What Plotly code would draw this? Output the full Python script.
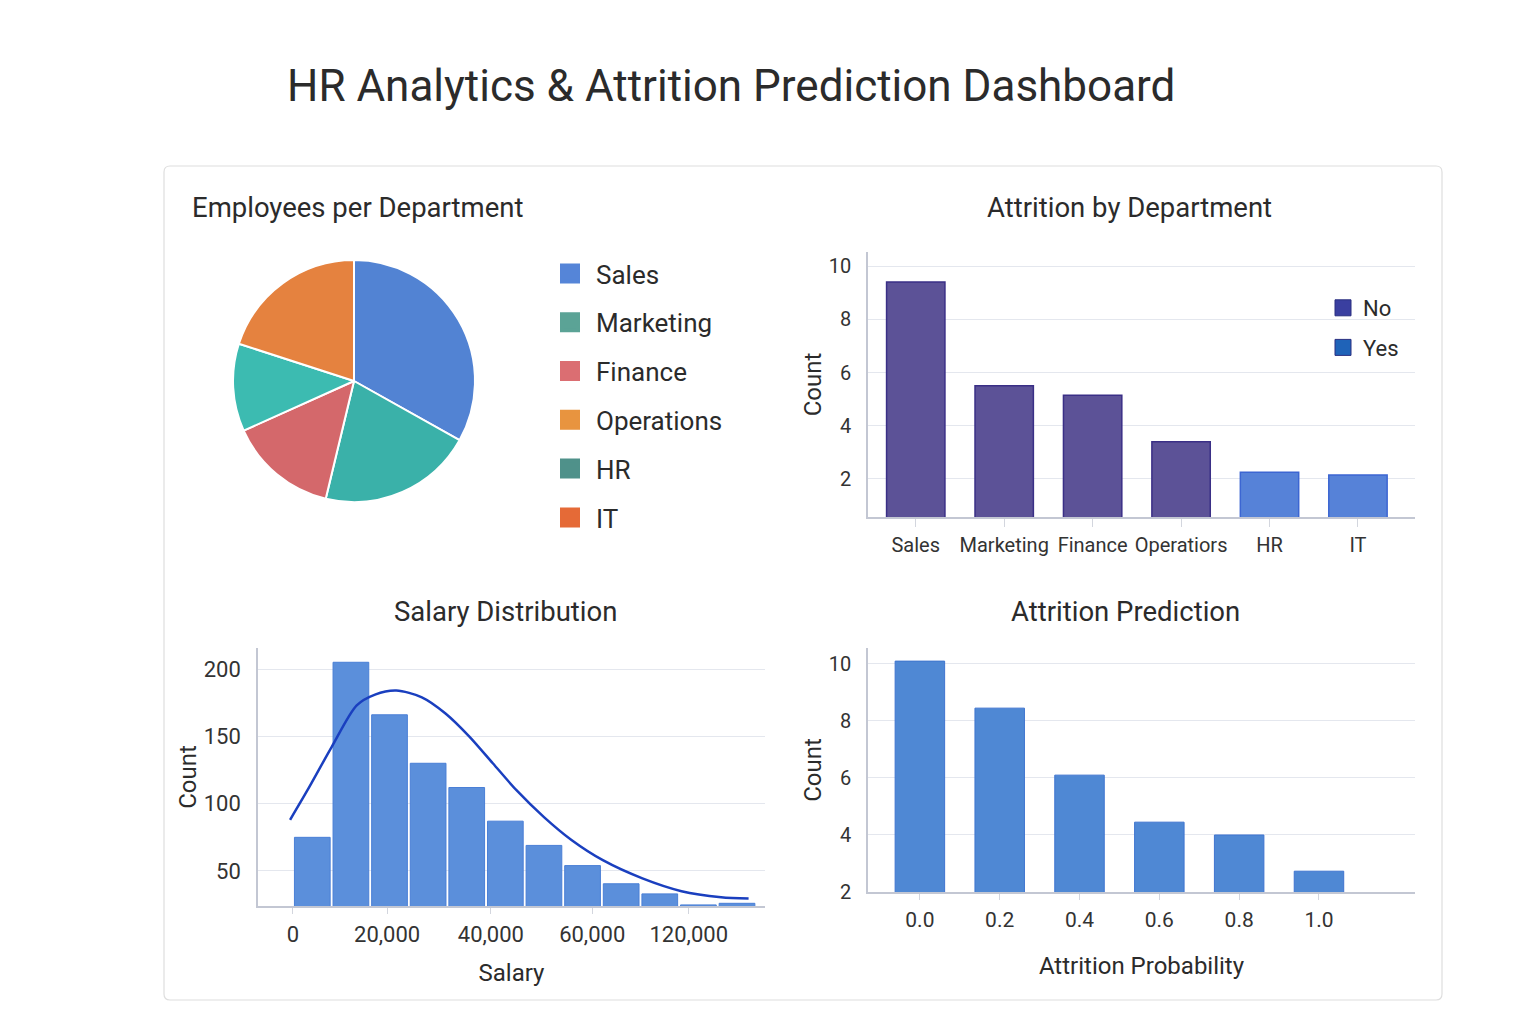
import plotly.graph_objects as go

W, H = 1536, 1024
H_MAP = 1012  # empirical vertical mapping of the rendered page

# ---------------- data ----------------
dashboard_title = "HR Analytics & Attrition Prediction Dashboard"
panel_titles = ["Employees per Department", "Attrition by Department",
                "Salary Distribution", "Attrition Prediction"]

departments = ["Sales", "Marketing", "Finance", "Operations", "HR", "IT"]
dept_legend_colors = ["#5585D8", "#5BA396", "#DB6E72", "#E8943F", "#4F918A", "#E56A37"]

pie_labels = ["Sales", "Marketing", "Finance", "HR", "IT"]
pie_values = [331, 206, 145, 117, 200]
pie_colors = ["#5283D3", "#3AB1A9", "#D4686B", "#3CBBB1", "#E5823F"]

attr_categories = ["Sales", "Marketing", "Finance", "Operatiors", "HR", "IT"]
attr_counts = [9.4, 5.5, 5.15, 3.4, 2.25, 2.15]
attr_status = ["No", "No", "No", "No", "Yes", "Yes"]
attr_legend = ["No", "Yes"]
attr_legend_colors = ["#3A3FA0", "#1F63B8"]

salary_bin_centers = [4000, 12000, 20000, 28000, 36000, 44000,
                      52000, 60000, 68000, 76000, 84000, 92000]
salary_counts = [75, 205, 166, 130, 112, 87, 69, 54, 40.5, 33, 24.8, 26]
salary_tick_pos = [0, 19500, 41000, 62000, 82000]
salary_tick_labels = ["0", "20,000", "40,000", "60,000", "120,000"]
kde_x = [-600, 3000, 8000, 13200, 17000, 21400, 26700, 31600, 36500, 41400,
         46300, 52000, 57700, 64200, 72400, 80500, 88700, 94400]
kde_y = [88, 110, 142, 173, 181, 184, 179, 167, 150, 130,
         110, 90, 73, 58, 44.5, 35, 30.5, 29.5]

pred_prob = [0.0, 0.2, 0.4, 0.6, 0.8, 1.0]
pred_counts = [10.1, 8.45, 6.1, 4.45, 4.0, 2.73]

# ---------------- helpers ----------------
FONT = "Roboto"
TXT = "#2b2b2b"
AXLINE = "#c3c7d3"
GRID = "#e4e7ee"


def px_x(p):
    return p / W


def px_y(p):
    return 1 - p / H_MAP


fig = go.Figure()

# Pie
fig.add_trace(go.Pie(
    labels=pie_labels, values=pie_values, sort=False, direction="clockwise",
    rotation=0, textinfo="none", showlegend=False,
    marker=dict(colors=pie_colors, line=dict(color="white", width=2)),
    domain=dict(x=[px_x(233), px_x(475)], y=[px_y(502), px_y(260)]),
))

# Pie legend (dummy traces)
for d, c in zip(departments, dept_legend_colors):
    fig.add_trace(go.Scatter(
        x=[None], y=[None], mode="markers", name=d, legend="legend",
        legendgroup=d, xaxis="x", yaxis="y",
        marker=dict(symbol="square", size=18, color=c,
                    line=dict(color=c, width=4)),
    ))

# Attrition by department
for status, fill, edge in [("No", "#5C5297", "#3A2F86"), ("Yes", "#5682D8", "#3C66D2")]:
    xs = [c for c, s in zip(attr_categories, attr_status) if s == status]
    ys = [v for v, s in zip(attr_counts, attr_status) if s == status]
    fig.add_trace(go.Bar(
        x=xs, y=ys, name=status, showlegend=False, width=0.66,
        marker=dict(color=fill, line=dict(color=edge, width=1.5)),
        xaxis="x", yaxis="y",
    ))
for n, c in zip(attr_legend, attr_legend_colors):
    fig.add_trace(go.Scatter(
        x=[None], y=[None], mode="markers", name=n, legend="legend2",
        legendgroup="a" + n, xaxis="x", yaxis="y",
        marker=dict(symbol="square", size=16, color=c,
                    line=dict(color="#2a2f80", width=1)),
    ))

# Salary histogram
fig.add_trace(go.Bar(
    x=salary_bin_centers, y=salary_counts, width=7400, showlegend=False,
    marker=dict(color="#5B8FDB", line=dict(color="#4A7FD6", width=1)),
    xaxis="x2", yaxis="y2",
))
fig.add_trace(go.Scatter(
    x=kde_x, y=kde_y, mode="lines", showlegend=False,
    line=dict(color="#1A3FBF", width=2.5, shape="spline", smoothing=0.8),
    xaxis="x2", yaxis="y2",
))

# Attrition prediction
fig.add_trace(go.Bar(
    x=pred_prob, y=pred_counts, width=0.124, showlegend=False,
    marker=dict(color="#4F88D4", line=dict(color="#3F74CF", width=1)),
    xaxis="x3", yaxis="y3",
))


def ax(size, **kw):
    d = dict(showline=True, linecolor=AXLINE, linewidth=1.5, zeroline=False,
             tickfont=dict(family=FONT, size=size, color="#333"), fixedrange=True)
    d.update(kw)
    return d


def ttl(text, standoff):
    return dict(text=text, font=dict(family=FONT, size=24, color=TXT), standoff=standoff)


def ann(text, x, y, size, anchor="center"):
    return dict(text=text, x=px_x(x), y=px_y(y), xref="paper", yref="paper",
                showarrow=False, xanchor=anchor, yanchor="middle",
                font=dict(family=FONT, size=size, color=TXT))


annotations = [
    ann(dashboard_title, 731, 86, 44),
    ann(panel_titles[0], 190, 207, 27.5, "left"),
    ann(panel_titles[1], 1129, 207, 27.5),
    ann(panel_titles[2], 505, 611, 27.5),
    ann(panel_titles[3], 1125, 611, 27.5),
]

r = 6
x0, x1, y0, y1 = 164, 1442, 166, 1000
ry = 6 * 1.0
card_path = (
    f"M {px_x(x0 + r)},{px_y(y0)} L {px_x(x1 - r)},{px_y(y0)} "
    f"Q {px_x(x1)},{px_y(y0)} {px_x(x1)},{px_y(y0 + ry)} "
    f"L {px_x(x1)},{px_y(y1 - ry)} Q {px_x(x1)},{px_y(y1)} {px_x(x1 - r)},{px_y(y1)} "
    f"L {px_x(x0 + r)},{px_y(y1)} Q {px_x(x0)},{px_y(y1)} {px_x(x0)},{px_y(y1 - ry)} "
    f"L {px_x(x0)},{px_y(y0 + ry)} Q {px_x(x0)},{px_y(y0)} {px_x(x0 + r)},{px_y(y0)} Z"
)

fig.update_layout(
    width=W, height=H, autosize=False,
    margin=dict(l=0, r=0, t=0, b=0),
    paper_bgcolor="white", plot_bgcolor="white",
    font=dict(family=FONT, color=TXT),
    barmode="overlay",
    annotations=annotations,
    shapes=[dict(type="path", path=card_path, xref="paper", yref="paper",
                 line=dict(color="#dedede", width=1.2), fillcolor="rgba(0,0,0,0)",
                 layer="below")],
    xaxis=ax(20, domain=[px_x(868), px_x(1415)], anchor="y", type="category",
             categoryorder="array", categoryarray=attr_categories,
             range=[-0.54, 5.645], ticks="outside", ticklen=8, tickcolor="#d3d6de",
             showgrid=False, ticklabelstandoff=1),
    yaxis=ax(20, domain=[px_y(517), px_y(252)], anchor="x", range=[0.57, 10.53],
             tickvals=[2, 4, 6, 8, 10], ticks="", gridcolor=GRID, gridwidth=1,
             ticklabelstandoff=11, title=ttl("Count", 0)),
    xaxis2=ax(22, domain=[px_x(258), px_x(765)], anchor="y2", range=[-7250, 97800],
              tickvals=salary_tick_pos, ticktext=salary_tick_labels,
              ticks="outside", ticklen=6, tickcolor="#d3d6de", showgrid=False,
              ticklabelstandoff=2, title=ttl("Salary", 18)),
    yaxis2=ax(22, domain=[px_y(906), px_y(648)], anchor="x2", range=[24, 215.6],
              tickvals=[50, 100, 150, 200], ticks="", gridcolor=GRID, gridwidth=1,
              ticklabelstandoff=11, title=ttl("Count", 0)),
    xaxis3=ax(21, domain=[px_x(868), px_x(1415)], anchor="y3", range=[-0.13, 1.2406],
              tickvals=pred_prob, tickformat=".1f",
              ticks="outside", ticklen=6, tickcolor="#d3d6de", showgrid=False,
              ticklabelstandoff=2, title=ttl("Attrition Probability", 26)),
    yaxis3=ax(20, domain=[px_y(892), px_y(648)], anchor="x3", range=[2, 10.56],
              tickvals=[2, 4, 6, 8, 10], ticks="", gridcolor=GRID, gridwidth=1,
              ticklabelstandoff=11, title=ttl("Count", 0)),
    legend=dict(x=px_x(544), y=px_y(250), xanchor="left", yanchor="top",
                font=dict(family=FONT, size=26, color=TXT), bgcolor="rgba(0,0,0,0)",
                tracegroupgap=12, itemwidth=42, itemclick=False, itemdoubleclick=False),
    legend2=dict(x=px_x(1323), y=px_y(287), xanchor="left", yanchor="top",
                 font=dict(family=FONT, size=22, color=TXT), bgcolor="rgba(0,0,0,0)",
                 tracegroupgap=8, itemwidth=30, itemclick=False, itemdoubleclick=False),
)

fig.write_html("out.html")
